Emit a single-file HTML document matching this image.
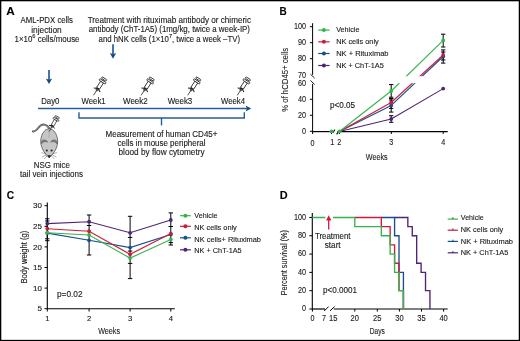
<!DOCTYPE html><html><head><meta charset="utf-8"><style>html,body{margin:0;padding:0;background:#fff}svg{display:block;will-change:transform}text{font-family:"Liberation Sans",sans-serif;stroke:#1a1a1a;stroke-width:0.12px}</style></head><body>
<svg width="520" height="341" viewBox="0 0 520 341">
<rect x="0" y="0" width="520" height="341" fill="#fff"/>
<text x="6.2" y="15.1" font-size="10.8" textLength="8.5" lengthAdjust="spacingAndGlyphs" font-weight="bold" fill="#000">A</text>
<text x="20.5" y="23.2" font-size="8.4" textLength="52.5" lengthAdjust="spacingAndGlyphs" fill="#1a1a1a">AML-PDX cells</text>
<text x="31.2" y="32.5" font-size="8.4" textLength="30.5" lengthAdjust="spacingAndGlyphs" fill="#1a1a1a">injection</text>
<text x="14.5" y="41.7" font-size="8.4" fill="#1a1a1a" textLength="65" lengthAdjust="spacingAndGlyphs">1×10<tspan font-size="6" dy="-3.3">6</tspan><tspan dy="3.3"> cells/mouse</tspan></text>
<text x="87.7" y="23.1" font-size="8.4" textLength="163.3" lengthAdjust="spacingAndGlyphs" fill="#1a1a1a">Treatment with rituximab antibody or chimeric</text>
<text x="88.7" y="32.0" font-size="8.4" textLength="161.3" lengthAdjust="spacingAndGlyphs" fill="#1a1a1a">antibody (ChT-1A5) (1mg/kg, twice a week-IP)</text>
<text x="98.6" y="41.7" font-size="8.4" fill="#1a1a1a" textLength="141.4" lengthAdjust="spacingAndGlyphs">and hNK cells (1×10<tspan font-size="6" dy="-3.3">7</tspan><tspan dy="3.3">, twice a week –TV)</tspan></text>
<line x1="49.00" y1="69.90" x2="49.00" y2="80.10" stroke="#245d9c" stroke-width="1.7"/>
<path d="M45.80,78.50 L49.00,79.70 L52.20,78.50 L49.00,84.10 Z" fill="#164a86"/>
<line x1="113.00" y1="44.20" x2="113.00" y2="54.70" stroke="#245d9c" stroke-width="1.7"/>
<path d="M109.80,53.10 L113.00,54.30 L116.20,53.10 L113.00,58.70 Z" fill="#164a86"/>
<g transform="translate(93.50,95.30) rotate(33) scale(0.94)" stroke="#1e1e1e" fill="none">
<line x1="0" y1="0" x2="0" y2="-6.5" stroke-width="0.75"/>
<path d="M-0.9,-5.8 L0.9,-5.8 L1.6,-9.2 L-1.6,-9.2 Z" fill="#555" stroke-width="0.4"/>
<path d="M-4,-6.8 L0,-8.8 L4,-6.8" stroke-width="1.1"/>
<rect x="-1.8" y="-16.8" width="3.6" height="7.8" fill="#fff" stroke-width="0.85"/>
<rect x="-4" y="-18.6" width="8" height="1.9" rx="0.9" fill="#fff" stroke-width="0.85"/>
<line x1="0" y1="-18.6" x2="0" y2="-19.8" stroke-width="0.9"/>
<rect x="-3" y="-21.6" width="6" height="1.8" rx="0.8" fill="#fff" stroke-width="0.85"/>
</g>
<g transform="translate(141.10,95.30) rotate(33) scale(0.94)" stroke="#1e1e1e" fill="none">
<line x1="0" y1="0" x2="0" y2="-6.5" stroke-width="0.75"/>
<path d="M-0.9,-5.8 L0.9,-5.8 L1.6,-9.2 L-1.6,-9.2 Z" fill="#555" stroke-width="0.4"/>
<path d="M-4,-6.8 L0,-8.8 L4,-6.8" stroke-width="1.1"/>
<rect x="-1.8" y="-16.8" width="3.6" height="7.8" fill="#fff" stroke-width="0.85"/>
<rect x="-4" y="-18.6" width="8" height="1.9" rx="0.9" fill="#fff" stroke-width="0.85"/>
<line x1="0" y1="-18.6" x2="0" y2="-19.8" stroke-width="0.9"/>
<rect x="-3" y="-21.6" width="6" height="1.8" rx="0.8" fill="#fff" stroke-width="0.85"/>
</g>
<g transform="translate(187.70,95.30) rotate(33) scale(0.94)" stroke="#1e1e1e" fill="none">
<line x1="0" y1="0" x2="0" y2="-6.5" stroke-width="0.75"/>
<path d="M-0.9,-5.8 L0.9,-5.8 L1.6,-9.2 L-1.6,-9.2 Z" fill="#555" stroke-width="0.4"/>
<path d="M-4,-6.8 L0,-8.8 L4,-6.8" stroke-width="1.1"/>
<rect x="-1.8" y="-16.8" width="3.6" height="7.8" fill="#fff" stroke-width="0.85"/>
<rect x="-4" y="-18.6" width="8" height="1.9" rx="0.9" fill="#fff" stroke-width="0.85"/>
<line x1="0" y1="-18.6" x2="0" y2="-19.8" stroke-width="0.9"/>
<rect x="-3" y="-21.6" width="6" height="1.8" rx="0.8" fill="#fff" stroke-width="0.85"/>
</g>
<g transform="translate(237.30,95.30) rotate(33) scale(0.94)" stroke="#1e1e1e" fill="none">
<line x1="0" y1="0" x2="0" y2="-6.5" stroke-width="0.75"/>
<path d="M-0.9,-5.8 L0.9,-5.8 L1.6,-9.2 L-1.6,-9.2 Z" fill="#555" stroke-width="0.4"/>
<path d="M-4,-6.8 L0,-8.8 L4,-6.8" stroke-width="1.1"/>
<rect x="-1.8" y="-16.8" width="3.6" height="7.8" fill="#fff" stroke-width="0.85"/>
<rect x="-4" y="-18.6" width="8" height="1.9" rx="0.9" fill="#fff" stroke-width="0.85"/>
<line x1="0" y1="-18.6" x2="0" y2="-19.8" stroke-width="0.9"/>
<rect x="-3" y="-21.6" width="6" height="1.8" rx="0.8" fill="#fff" stroke-width="0.85"/>
</g>
<text x="41.2" y="104.4" font-size="8.4" textLength="18.2" lengthAdjust="spacingAndGlyphs" fill="#1a1a1a">Day0</text>
<text x="81.6" y="104.4" font-size="8.4" textLength="24.0" lengthAdjust="spacingAndGlyphs" fill="#1a1a1a">Week1</text>
<text x="123.0" y="104.4" font-size="8.4" textLength="24.7" lengthAdjust="spacingAndGlyphs" fill="#1a1a1a">Week2</text>
<text x="167.7" y="104.4" font-size="8.4" textLength="24.6" lengthAdjust="spacingAndGlyphs" fill="#1a1a1a">Week3</text>
<text x="221.0" y="104.4" font-size="8.4" textLength="24.0" lengthAdjust="spacingAndGlyphs" fill="#1a1a1a">Week4</text>
<line x1="38.10" y1="108.50" x2="247.00" y2="108.50" stroke="#245d9c" stroke-width="1.3"/>
<path d="M245.6,105.6 L247,108.5 L245.6,111.4 L251.2,108.5 Z" fill="#164a86"/>
<polyline points="79.00,112.30 79.00,118.00 244.30,118.00 244.30,112.30" stroke="#245d9c" stroke-width="1.4" fill="none"/>
<line x1="161.50" y1="118.00" x2="161.50" y2="125.40" stroke="#245d9c" stroke-width="1.4"/>
<text x="105.5" y="136.7" font-size="8.4" textLength="112.0" lengthAdjust="spacingAndGlyphs" fill="#1a1a1a">Measurement of human CD45+</text>
<text x="117.5" y="145.8" font-size="8.4" textLength="88.0" lengthAdjust="spacingAndGlyphs" fill="#1a1a1a">cells in mouse peripheral</text>
<text x="118.5" y="154.6" font-size="8.4" textLength="86.1" lengthAdjust="spacingAndGlyphs" fill="#1a1a1a">blood by flow cytometry</text>
<path d="M32.8,131.4 C34.6,131.8 36.2,130.6 38.2,128 C40.2,125.4 42.2,124.4 44.2,124.6 C46.6,124.9 48.2,126.6 49.6,128.8" fill="none" stroke="#555" stroke-width="1.9" stroke-linecap="round"/>
<path d="M33.4,131.2 C34.8,131.4 36.4,130.4 38.4,127.9 C40.4,125.5 42.3,124.8 44.2,124.9 C46.5,125.2 48,126.8 49.4,128.8" fill="none" stroke="#9a9a9a" stroke-width="0.8" stroke-linecap="round"/>
<path d="M49.2,128.8 C53.5,128.8 57,133.5 57.6,140 C58.2,146 55,152.5 49.2,157.8 C43.4,152.5 40.2,146 40.8,140 C41.4,133.5 44.9,128.8 49.2,128.8 Z" fill="#c6c6c6" stroke="#4a4a4a" stroke-width="0.75"/>
<path d="M41,142.5 C42,139 46,138.6 47.8,142.2 C45.5,141.2 43,141.5 41.5,144 Z" fill="#7d7d7d" stroke="#555" stroke-width="0.4"/>
<path d="M57.4,142.5 C56.4,139 52.4,138.6 50.6,142.2 C52.9,141.2 55.4,141.5 56.9,144 Z" fill="#7d7d7d" stroke="#555" stroke-width="0.4"/>
<path d="M49.2,129 L49.2,138" stroke="#888" stroke-width="0.4"/>
<circle cx="46.8" cy="150.5" r="1" fill="#1a1a1a"/><circle cx="51.6" cy="150.5" r="1" fill="#1a1a1a"/>
<path d="M47.3,155.2 L51.1,155.2 L49.2,158 Z" fill="#1a1a1a"/>
<g stroke="#555" stroke-width="0.45" fill="none"><path d="M46,154 L41.5,152.5"/><path d="M46,155 L42,157"/><path d="M47,156 L44,159"/><path d="M52.4,154 L56.9,152.5"/><path d="M52.4,155 L56.4,157"/><path d="M51.4,156 L54.4,159"/></g>
<g transform="translate(49.10,131.70) rotate(29) scale(0.8)" stroke="#1e1e1e" fill="none">
<line x1="0" y1="0" x2="0" y2="-6.5" stroke-width="0.75"/>
<path d="M-0.9,-5.8 L0.9,-5.8 L1.6,-9.2 L-1.6,-9.2 Z" fill="#555" stroke-width="0.4"/>
<path d="M-4,-6.8 L0,-8.8 L4,-6.8" stroke-width="1.1"/>
<rect x="-1.8" y="-16.8" width="3.6" height="7.8" fill="#fff" stroke-width="0.85"/>
<rect x="-4" y="-18.6" width="8" height="1.9" rx="0.9" fill="#fff" stroke-width="0.85"/>
<line x1="0" y1="-18.6" x2="0" y2="-19.8" stroke-width="0.9"/>
<rect x="-3" y="-21.6" width="6" height="1.8" rx="0.8" fill="#fff" stroke-width="0.85"/>
</g>
<text x="33.8" y="167.6" font-size="8.4" textLength="36.2" lengthAdjust="spacingAndGlyphs" fill="#1a1a1a">NSG mice</text>
<text x="20.0" y="176.5" font-size="8.4" textLength="63.0" lengthAdjust="spacingAndGlyphs" fill="#1a1a1a">tail vein injections</text>
<text x="279.6" y="15.0" font-size="10.8" textLength="7.2" lengthAdjust="spacingAndGlyphs" font-weight="bold" fill="#000">B</text>
<line x1="312.60" y1="23.20" x2="312.60" y2="74.80" stroke="#000" stroke-width="1"/>
<line x1="312.60" y1="83.90" x2="312.60" y2="131.80" stroke="#000" stroke-width="1"/>
<line x1="310.50" y1="74.20" x2="314.60" y2="78.10" stroke="#000" stroke-width="0.9"/>
<line x1="310.50" y1="80.40" x2="314.60" y2="84.50" stroke="#000" stroke-width="0.9"/>
<line x1="309.90" y1="26.70" x2="312.60" y2="26.70" stroke="#000" stroke-width="1"/>
<text x="306.0" y="29.4" font-size="8.5" text-anchor="end" textLength="12.1" lengthAdjust="spacingAndGlyphs" fill="#1a1a1a">100</text>
<line x1="309.90" y1="42.70" x2="312.60" y2="42.70" stroke="#000" stroke-width="1"/>
<text x="306.0" y="45.4" font-size="8.5" text-anchor="end" textLength="8.1" lengthAdjust="spacingAndGlyphs" fill="#1a1a1a">90</text>
<line x1="309.90" y1="58.70" x2="312.60" y2="58.70" stroke="#000" stroke-width="1"/>
<text x="306.0" y="61.4" font-size="8.5" text-anchor="end" textLength="8.1" lengthAdjust="spacingAndGlyphs" fill="#1a1a1a">80</text>
<text x="306.0" y="78.2" font-size="8.5" text-anchor="end" textLength="8.1" lengthAdjust="spacingAndGlyphs" fill="#1a1a1a">70</text>
<text x="306.0" y="86.0" font-size="8.5" text-anchor="end" textLength="8.1" lengthAdjust="spacingAndGlyphs" fill="#1a1a1a">60</text>
<line x1="309.90" y1="99.30" x2="312.60" y2="99.30" stroke="#000" stroke-width="1"/>
<text x="306.0" y="102.0" font-size="8.5" text-anchor="end" textLength="8.1" lengthAdjust="spacingAndGlyphs" fill="#1a1a1a">40</text>
<line x1="309.90" y1="115.30" x2="312.60" y2="115.30" stroke="#000" stroke-width="1"/>
<text x="306.0" y="118.0" font-size="8.5" text-anchor="end" textLength="8.1" lengthAdjust="spacingAndGlyphs" fill="#1a1a1a">20</text>
<line x1="309.90" y1="131.30" x2="312.60" y2="131.30" stroke="#000" stroke-width="1"/>
<text x="306.0" y="134.0" font-size="8.5" text-anchor="end" textLength="4.0" lengthAdjust="spacingAndGlyphs" fill="#1a1a1a">0</text>
<line x1="312.60" y1="131.60" x2="333.40" y2="131.60" stroke="#000" stroke-width="1.2"/>
<line x1="337.40" y1="131.60" x2="447.70" y2="131.60" stroke="#000" stroke-width="1.2"/>
<line x1="332.60" y1="133.00" x2="334.90" y2="129.60" stroke="#000" stroke-width="1.1"/>
<line x1="336.60" y1="134.40" x2="338.60" y2="131.60" stroke="#000" stroke-width="1.1"/>
<line x1="312.60" y1="131.50" x2="312.60" y2="134.00" stroke="#000" stroke-width="1"/>
<line x1="331.50" y1="131.50" x2="331.50" y2="134.00" stroke="#000" stroke-width="1"/>
<line x1="339.40" y1="131.50" x2="339.40" y2="134.00" stroke="#000" stroke-width="1"/>
<line x1="391.30" y1="131.50" x2="391.30" y2="134.00" stroke="#000" stroke-width="1"/>
<line x1="443.20" y1="131.50" x2="443.20" y2="134.00" stroke="#000" stroke-width="1"/>
<text x="312.5" y="146.1" font-size="8.5" text-anchor="middle" textLength="4.0" lengthAdjust="spacingAndGlyphs" fill="#1a1a1a">0</text>
<text x="332.2" y="144.9" font-size="8.5" text-anchor="middle" textLength="4.0" lengthAdjust="spacingAndGlyphs" fill="#1a1a1a">1</text>
<text x="339.2" y="144.9" font-size="8.5" text-anchor="middle" textLength="4.0" lengthAdjust="spacingAndGlyphs" fill="#1a1a1a">2</text>
<text x="391.3" y="144.9" font-size="8.5" text-anchor="middle" textLength="4.0" lengthAdjust="spacingAndGlyphs" fill="#1a1a1a">3</text>
<text x="443.2" y="144.9" font-size="8.5" text-anchor="middle" textLength="4.0" lengthAdjust="spacingAndGlyphs" fill="#1a1a1a">4</text>
<text x="365.8" y="159.7" font-size="9.6" textLength="21.9" lengthAdjust="spacingAndGlyphs" fill="#1a1a1a">Weeks</text>
<text transform="translate(287.7,111.8) rotate(-90)" font-size="9.6" fill="#1a1a1a" textLength="64" lengthAdjust="spacingAndGlyphs">% of hCD45+ cells</text>
<text x="330.1" y="107.7" font-size="8.4" textLength="25.0" lengthAdjust="spacingAndGlyphs" fill="#1a1a1a">p&lt;0.05</text>
<line x1="318.20" y1="30.10" x2="329.60" y2="30.10" stroke="#35b44a" stroke-width="1.2"/>
<circle cx="323.90" cy="30.10" r="2.0" fill="#35b44a"/>
<text x="336.2" y="32.2" font-size="7.9" textLength="23.2" lengthAdjust="spacingAndGlyphs" fill="#1a1a1a">Vehicle</text>
<line x1="318.20" y1="41.80" x2="329.60" y2="41.80" stroke="#cf1a3c" stroke-width="1.2"/>
<circle cx="323.90" cy="41.80" r="2.0" fill="#cf1a3c"/>
<text x="336.2" y="44.0" font-size="7.9" textLength="42.5" lengthAdjust="spacingAndGlyphs" fill="#1a1a1a">NK cells only</text>
<line x1="318.20" y1="53.50" x2="329.60" y2="53.50" stroke="#174f8e" stroke-width="1.2"/>
<circle cx="323.90" cy="53.50" r="2.0" fill="#174f8e"/>
<text x="336.2" y="55.8" font-size="7.9" textLength="52.3" lengthAdjust="spacingAndGlyphs" fill="#1a1a1a">NK + Rituximab</text>
<line x1="318.20" y1="65.50" x2="329.60" y2="65.50" stroke="#4f2375" stroke-width="1.2"/>
<circle cx="323.90" cy="65.50" r="2.0" fill="#4f2375"/>
<text x="336.2" y="67.6" font-size="7.9" textLength="47.6" lengthAdjust="spacingAndGlyphs" fill="#1a1a1a">NK + ChT-1A5</text>
<line x1="391.20" y1="84.60" x2="391.20" y2="97.20" stroke="#000" stroke-width="1.0"/>
<line x1="389.00" y1="84.60" x2="393.40" y2="84.60" stroke="#000" stroke-width="1.0"/>
<line x1="389.00" y1="97.20" x2="393.40" y2="97.20" stroke="#000" stroke-width="1.0"/>
<line x1="391.20" y1="98.50" x2="391.20" y2="108.40" stroke="#000" stroke-width="1.0"/>
<line x1="389.00" y1="98.50" x2="393.40" y2="98.50" stroke="#000" stroke-width="1.0"/>
<line x1="389.00" y1="108.40" x2="393.40" y2="108.40" stroke="#000" stroke-width="1.0"/>
<line x1="391.20" y1="100.00" x2="391.20" y2="112.10" stroke="#000" stroke-width="1.0"/>
<line x1="389.00" y1="100.00" x2="393.40" y2="100.00" stroke="#000" stroke-width="1.0"/>
<line x1="389.00" y1="112.10" x2="393.40" y2="112.10" stroke="#000" stroke-width="1.0"/>
<line x1="391.20" y1="115.70" x2="391.20" y2="122.30" stroke="#000" stroke-width="1.0"/>
<line x1="389.00" y1="115.70" x2="393.40" y2="115.70" stroke="#000" stroke-width="1.0"/>
<line x1="389.00" y1="122.30" x2="393.40" y2="122.30" stroke="#000" stroke-width="1.0"/>
<line x1="443.20" y1="34.20" x2="443.20" y2="47.00" stroke="#000" stroke-width="1.0"/>
<line x1="441.00" y1="34.20" x2="445.40" y2="34.20" stroke="#000" stroke-width="1.0"/>
<line x1="441.00" y1="47.00" x2="445.40" y2="47.00" stroke="#000" stroke-width="1.0"/>
<line x1="443.20" y1="49.90" x2="443.20" y2="60.00" stroke="#000" stroke-width="1.0"/>
<line x1="441.00" y1="49.90" x2="445.40" y2="49.90" stroke="#000" stroke-width="1.0"/>
<line x1="441.00" y1="60.00" x2="445.40" y2="60.00" stroke="#000" stroke-width="1.0"/>
<line x1="443.20" y1="52.00" x2="443.20" y2="63.10" stroke="#000" stroke-width="1.0"/>
<line x1="441.00" y1="52.00" x2="445.40" y2="52.00" stroke="#000" stroke-width="1.0"/>
<line x1="441.00" y1="63.10" x2="445.40" y2="63.10" stroke="#000" stroke-width="1.0"/>
<line x1="339.40" y1="131.50" x2="391.20" y2="119.00" stroke="#4f2375" stroke-width="1.1"/>
<line x1="391.20" y1="119.00" x2="443.20" y2="88.60" stroke="#4f2375" stroke-width="1.1"/>
<line x1="339.40" y1="131.50" x2="391.20" y2="105.40" stroke="#174f8e" stroke-width="1.1"/>
<line x1="391.20" y1="105.40" x2="443.20" y2="56.50" stroke="#174f8e" stroke-width="1.1"/>
<line x1="339.40" y1="131.50" x2="391.20" y2="102.50" stroke="#cf1a3c" stroke-width="1.1"/>
<line x1="391.20" y1="102.50" x2="443.20" y2="55.00" stroke="#cf1a3c" stroke-width="1.1"/>
<line x1="339.40" y1="131.50" x2="391.20" y2="91.00" stroke="#35b44a" stroke-width="1.1"/>
<line x1="391.20" y1="91.00" x2="443.20" y2="40.40" stroke="#35b44a" stroke-width="1.1"/>
<rect x="318" y="76.2" width="120" height="7" fill="#fff"/>
<circle cx="391.20" cy="119.00" r="1.9" fill="#4f2375"/>
<circle cx="443.20" cy="88.60" r="1.9" fill="#4f2375"/>
<circle cx="391.20" cy="105.40" r="1.9" fill="#174f8e"/>
<circle cx="443.20" cy="56.50" r="1.9" fill="#174f8e"/>
<circle cx="391.20" cy="102.50" r="1.9" fill="#cf1a3c"/>
<circle cx="443.20" cy="55.00" r="1.9" fill="#cf1a3c"/>
<circle cx="391.20" cy="91.00" r="1.9" fill="#35b44a"/>
<circle cx="443.20" cy="40.40" r="1.9" fill="#35b44a"/>
<circle cx="331.50" cy="131.30" r="1.9" fill="#35b44a"/>
<circle cx="339.40" cy="131.30" r="1.9" fill="#35b44a"/>
<text x="6.7" y="199.4" font-size="10.8" textLength="7.4" lengthAdjust="spacingAndGlyphs" font-weight="bold" fill="#000">C</text>
<line x1="47.30" y1="202.60" x2="47.30" y2="309.20" stroke="#000" stroke-width="1.1"/>
<line x1="44.50" y1="308.70" x2="47.30" y2="308.70" stroke="#000" stroke-width="1"/>
<text x="42.0" y="311.4" font-size="7.7" text-anchor="end" textLength="4.5" lengthAdjust="spacingAndGlyphs" fill="#1a1a1a">5</text>
<line x1="44.50" y1="288.10" x2="47.30" y2="288.10" stroke="#000" stroke-width="1"/>
<text x="42.0" y="290.8" font-size="7.7" text-anchor="end" textLength="8.9" lengthAdjust="spacingAndGlyphs" fill="#1a1a1a">10</text>
<line x1="44.50" y1="267.50" x2="47.30" y2="267.50" stroke="#000" stroke-width="1"/>
<text x="42.0" y="270.2" font-size="7.7" text-anchor="end" textLength="8.9" lengthAdjust="spacingAndGlyphs" fill="#1a1a1a">15</text>
<line x1="44.50" y1="246.90" x2="47.30" y2="246.90" stroke="#000" stroke-width="1"/>
<text x="42.0" y="249.6" font-size="7.7" text-anchor="end" textLength="8.9" lengthAdjust="spacingAndGlyphs" fill="#1a1a1a">20</text>
<line x1="44.50" y1="226.30" x2="47.30" y2="226.30" stroke="#000" stroke-width="1"/>
<text x="42.0" y="229.0" font-size="7.7" text-anchor="end" textLength="8.9" lengthAdjust="spacingAndGlyphs" fill="#1a1a1a">25</text>
<line x1="44.50" y1="205.70" x2="47.30" y2="205.70" stroke="#000" stroke-width="1"/>
<text x="42.0" y="208.4" font-size="7.7" text-anchor="end" textLength="8.9" lengthAdjust="spacingAndGlyphs" fill="#1a1a1a">30</text>
<line x1="47.30" y1="308.70" x2="174.80" y2="308.70" stroke="#000" stroke-width="1.1"/>
<line x1="47.30" y1="308.70" x2="47.30" y2="311.50" stroke="#000" stroke-width="1"/>
<text x="47.3" y="320.8" font-size="7.7" text-anchor="middle" fill="#1a1a1a">1</text>
<line x1="89.10" y1="308.70" x2="89.10" y2="311.50" stroke="#000" stroke-width="1"/>
<text x="89.1" y="320.8" font-size="7.7" text-anchor="middle" fill="#1a1a1a">2</text>
<line x1="130.10" y1="308.70" x2="130.10" y2="311.50" stroke="#000" stroke-width="1"/>
<text x="130.1" y="320.8" font-size="7.7" text-anchor="middle" fill="#1a1a1a">3</text>
<line x1="170.80" y1="308.70" x2="170.80" y2="311.50" stroke="#000" stroke-width="1"/>
<text x="170.8" y="320.8" font-size="7.7" text-anchor="middle" fill="#1a1a1a">4</text>
<text x="98.2" y="333.8" font-size="9.6" textLength="21.8" lengthAdjust="spacingAndGlyphs" fill="#1a1a1a">Weeks</text>
<text transform="translate(26.6,283.6) rotate(-90)" font-size="8.2" fill="#1a1a1a" textLength="53" lengthAdjust="spacingAndGlyphs">Body weight (g)</text>
<text x="57.0" y="297.3" font-size="8.4" textLength="25.6" lengthAdjust="spacingAndGlyphs" fill="#1a1a1a">p=0.02</text>
<line x1="47.30" y1="218.80" x2="47.30" y2="240.70" stroke="#000" stroke-width="1.0"/>
<line x1="45.10" y1="218.80" x2="49.50" y2="218.80" stroke="#000" stroke-width="1.0"/>
<line x1="45.10" y1="221.00" x2="49.50" y2="221.00" stroke="#000" stroke-width="1.0"/>
<line x1="45.10" y1="238.80" x2="49.50" y2="238.80" stroke="#000" stroke-width="1.0"/>
<line x1="45.10" y1="240.70" x2="49.50" y2="240.70" stroke="#000" stroke-width="1.0"/>
<line x1="89.10" y1="215.00" x2="89.10" y2="255.00" stroke="#000" stroke-width="1.0"/>
<line x1="86.90" y1="215.00" x2="91.30" y2="215.00" stroke="#000" stroke-width="1.0"/>
<line x1="86.90" y1="225.50" x2="91.30" y2="225.50" stroke="#000" stroke-width="1.0"/>
<line x1="86.90" y1="255.00" x2="91.30" y2="255.00" stroke="#000" stroke-width="1.0"/>
<line x1="130.10" y1="216.30" x2="130.10" y2="278.60" stroke="#000" stroke-width="1.0"/>
<line x1="127.90" y1="216.30" x2="132.30" y2="216.30" stroke="#000" stroke-width="1.0"/>
<line x1="127.90" y1="237.40" x2="132.30" y2="237.40" stroke="#000" stroke-width="1.0"/>
<line x1="127.90" y1="251.10" x2="132.30" y2="251.10" stroke="#000" stroke-width="1.0"/>
<line x1="127.90" y1="263.40" x2="132.30" y2="263.40" stroke="#000" stroke-width="1.0"/>
<line x1="127.90" y1="278.60" x2="132.30" y2="278.60" stroke="#000" stroke-width="1.0"/>
<line x1="170.80" y1="212.90" x2="170.80" y2="245.00" stroke="#000" stroke-width="1.0"/>
<line x1="168.60" y1="212.90" x2="173.00" y2="212.90" stroke="#000" stroke-width="1.0"/>
<line x1="168.60" y1="226.50" x2="173.00" y2="226.50" stroke="#000" stroke-width="1.0"/>
<line x1="168.60" y1="242.60" x2="173.00" y2="242.60" stroke="#000" stroke-width="1.0"/>
<line x1="168.60" y1="245.00" x2="173.00" y2="245.00" stroke="#000" stroke-width="1.0"/>
<polyline points="47.30,233.10 89.10,240.30 130.10,247.60 170.80,234.40" stroke="#174f8e" stroke-width="1.1" fill="none"/>
<polyline points="47.30,232.70 89.10,235.00 130.10,258.10 170.80,239.50" stroke="#35b44a" stroke-width="1.1" fill="none"/>
<polyline points="47.30,228.70 89.10,231.20 130.10,254.30 170.80,233.60" stroke="#cf1a3c" stroke-width="1.1" fill="none"/>
<polyline points="47.30,223.60 89.10,221.70 130.10,232.80 170.80,220.00" stroke="#4f2375" stroke-width="1.1" fill="none"/>
<circle cx="47.30" cy="233.10" r="1.9" fill="#174f8e"/>
<circle cx="89.10" cy="240.30" r="1.9" fill="#174f8e"/>
<circle cx="130.10" cy="247.60" r="1.9" fill="#174f8e"/>
<circle cx="170.80" cy="234.40" r="1.9" fill="#174f8e"/>
<circle cx="47.30" cy="232.70" r="1.9" fill="#35b44a"/>
<circle cx="89.10" cy="235.00" r="1.9" fill="#35b44a"/>
<circle cx="130.10" cy="258.10" r="1.9" fill="#35b44a"/>
<circle cx="170.80" cy="239.50" r="1.9" fill="#35b44a"/>
<circle cx="47.30" cy="228.70" r="1.9" fill="#cf1a3c"/>
<circle cx="89.10" cy="231.20" r="1.9" fill="#cf1a3c"/>
<circle cx="130.10" cy="254.30" r="1.9" fill="#cf1a3c"/>
<circle cx="170.80" cy="233.60" r="1.9" fill="#cf1a3c"/>
<circle cx="47.30" cy="223.60" r="1.9" fill="#4f2375"/>
<circle cx="89.10" cy="221.70" r="1.9" fill="#4f2375"/>
<circle cx="130.10" cy="232.80" r="1.9" fill="#4f2375"/>
<circle cx="170.80" cy="220.00" r="1.9" fill="#4f2375"/>
<line x1="180.00" y1="215.70" x2="190.80" y2="215.70" stroke="#35b44a" stroke-width="1.2"/>
<circle cx="185.40" cy="215.70" r="2.0" fill="#35b44a"/>
<text x="194.3" y="218.1" font-size="7.9" textLength="23.2" lengthAdjust="spacingAndGlyphs" fill="#1a1a1a">Vehicle</text>
<line x1="180.00" y1="226.30" x2="190.80" y2="226.30" stroke="#cf1a3c" stroke-width="1.2"/>
<circle cx="185.40" cy="226.30" r="2.0" fill="#cf1a3c"/>
<text x="194.3" y="229.8" font-size="7.9" textLength="42.5" lengthAdjust="spacingAndGlyphs" fill="#1a1a1a">NK cells only</text>
<line x1="180.00" y1="237.80" x2="190.80" y2="237.80" stroke="#174f8e" stroke-width="1.2"/>
<circle cx="185.40" cy="237.80" r="2.0" fill="#174f8e"/>
<text x="194.3" y="241.8" font-size="7.9" textLength="66.7" lengthAdjust="spacingAndGlyphs" fill="#1a1a1a">NK cells+ Rituximab</text>
<line x1="180.00" y1="249.80" x2="190.80" y2="249.80" stroke="#4f2375" stroke-width="1.2"/>
<circle cx="185.40" cy="249.80" r="2.0" fill="#4f2375"/>
<text x="194.3" y="253.0" font-size="7.9" textLength="47.4" lengthAdjust="spacingAndGlyphs" fill="#1a1a1a">NK + ChT-1A5</text>
<text x="279.7" y="199.1" font-size="10.8" textLength="7.9" lengthAdjust="spacingAndGlyphs" font-weight="bold" fill="#000">D</text>
<line x1="312.30" y1="213.10" x2="312.30" y2="309.50" stroke="#000" stroke-width="1.1"/>
<line x1="309.30" y1="309.00" x2="312.30" y2="309.00" stroke="#000" stroke-width="1"/>
<text x="306.0" y="311.3" font-size="8.5" text-anchor="end" textLength="4.0" lengthAdjust="spacingAndGlyphs" fill="#1a1a1a">0</text>
<line x1="309.30" y1="290.69" x2="312.30" y2="290.69" stroke="#000" stroke-width="1"/>
<text x="306.0" y="293.0" font-size="8.5" text-anchor="end" textLength="8.1" lengthAdjust="spacingAndGlyphs" fill="#1a1a1a">20</text>
<line x1="309.30" y1="272.38" x2="312.30" y2="272.38" stroke="#000" stroke-width="1"/>
<text x="306.0" y="274.7" font-size="8.5" text-anchor="end" textLength="8.1" lengthAdjust="spacingAndGlyphs" fill="#1a1a1a">40</text>
<line x1="309.30" y1="254.07" x2="312.30" y2="254.07" stroke="#000" stroke-width="1"/>
<text x="306.0" y="256.4" font-size="8.5" text-anchor="end" textLength="8.1" lengthAdjust="spacingAndGlyphs" fill="#1a1a1a">60</text>
<line x1="309.30" y1="235.76" x2="312.30" y2="235.76" stroke="#000" stroke-width="1"/>
<text x="306.0" y="238.1" font-size="8.5" text-anchor="end" textLength="8.1" lengthAdjust="spacingAndGlyphs" fill="#1a1a1a">80</text>
<line x1="309.30" y1="217.45" x2="312.30" y2="217.45" stroke="#000" stroke-width="1"/>
<text x="306.0" y="219.8" font-size="8.5" text-anchor="end" textLength="12.1" lengthAdjust="spacingAndGlyphs" fill="#1a1a1a">100</text>
<line x1="312.30" y1="309.00" x2="325.00" y2="309.00" stroke="#000" stroke-width="1.2"/>
<line x1="333.80" y1="309.00" x2="447.70" y2="309.00" stroke="#000" stroke-width="1.2"/>
<line x1="324.20" y1="311.00" x2="328.60" y2="306.60" stroke="#000" stroke-width="1.0"/>
<line x1="330.10" y1="310.80" x2="334.50" y2="306.60" stroke="#000" stroke-width="1.0"/>
<line x1="312.40" y1="309.00" x2="312.40" y2="311.60" stroke="#000" stroke-width="1"/>
<text x="312.4" y="320.6" font-size="8.5" text-anchor="middle" textLength="4.0" lengthAdjust="spacingAndGlyphs" fill="#1a1a1a">0</text>
<text x="324.0" y="320.6" font-size="8.5" text-anchor="middle" textLength="4.0" lengthAdjust="spacingAndGlyphs" fill="#1a1a1a">7</text>
<text x="333.2" y="320.6" font-size="8.5" text-anchor="middle" textLength="8.4" lengthAdjust="spacingAndGlyphs" fill="#1a1a1a">15</text>
<line x1="354.80" y1="309.00" x2="354.80" y2="311.60" stroke="#000" stroke-width="1"/>
<text x="354.8" y="320.6" font-size="8.5" text-anchor="middle" textLength="8.4" lengthAdjust="spacingAndGlyphs" fill="#1a1a1a">20</text>
<line x1="377.30" y1="309.00" x2="377.30" y2="311.60" stroke="#000" stroke-width="1"/>
<text x="377.3" y="320.6" font-size="8.5" text-anchor="middle" textLength="8.4" lengthAdjust="spacingAndGlyphs" fill="#1a1a1a">25</text>
<line x1="399.40" y1="309.00" x2="399.40" y2="311.60" stroke="#000" stroke-width="1"/>
<text x="399.4" y="320.6" font-size="8.5" text-anchor="middle" textLength="8.4" lengthAdjust="spacingAndGlyphs" fill="#1a1a1a">30</text>
<line x1="421.50" y1="309.00" x2="421.50" y2="311.60" stroke="#000" stroke-width="1"/>
<text x="421.5" y="320.6" font-size="8.5" text-anchor="middle" textLength="8.4" lengthAdjust="spacingAndGlyphs" fill="#1a1a1a">35</text>
<line x1="443.60" y1="309.00" x2="443.60" y2="311.60" stroke="#000" stroke-width="1"/>
<text x="443.6" y="320.6" font-size="8.5" text-anchor="middle" textLength="8.4" lengthAdjust="spacingAndGlyphs" fill="#1a1a1a">40</text>
<text x="369.7" y="333.8" font-size="9.6" textLength="15.1" lengthAdjust="spacingAndGlyphs" fill="#1a1a1a">Days</text>
<text transform="translate(287.1,295.3) rotate(-90)" font-size="9.6" fill="#1a1a1a" textLength="65.2" lengthAdjust="spacingAndGlyphs">Percent survival (%)</text>
<text x="322.9" y="293.0" font-size="8.4" textLength="34.1" lengthAdjust="spacingAndGlyphs" fill="#1a1a1a">p&lt;0.0001</text>
<text x="314.9" y="238.9" font-size="8.4" textLength="35.6" lengthAdjust="spacingAndGlyphs" fill="#1a1a1a">Treatment</text>
<text x="324.8" y="248.3" font-size="8.4" textLength="15.8" lengthAdjust="spacingAndGlyphs" fill="#1a1a1a">start</text>
<polyline points="394.58,217.45 407.84,217.45 407.84,226.61 412.26,226.61 412.26,235.76 416.68,235.76 416.68,263.23 421.10,263.23 421.10,272.38 425.52,272.38 425.52,290.69 429.94,290.69 429.94,309.00" stroke="#4f2375" stroke-width="1.35" fill="none"/>
<polyline points="381.32,217.45 394.58,217.45 394.58,235.76 399.00,235.76 399.00,272.38 403.42,272.38 403.42,309.00" stroke="#174f8e" stroke-width="1.35" fill="none"/>
<polyline points="354.80,217.45 381.32,217.45 381.32,226.61 390.16,226.61 390.16,244.92 394.58,244.92 394.58,263.23 399.00,263.23 399.00,290.69 403.42,290.69 403.42,309.00" stroke="#cf1a3c" stroke-width="1.35" fill="none"/>
<polyline points="312.30,217.45 354.80,217.45 354.80,226.61 381.32,226.61 381.32,235.76 390.16,235.76 390.16,254.07 394.58,254.07 394.58,272.38 399.00,272.38 399.00,290.69 403.42,290.69 403.42,309.00" stroke="#35b44a" stroke-width="1.35" fill="none"/>
<rect x="325.4" y="215" width="7.6" height="5" fill="#fff"/>
<line x1="328.70" y1="219.00" x2="328.70" y2="229.40" stroke="#cf1a3c" stroke-width="1.3"/>
<path d="M326.1,220.4 L331.4,220.4 L328.7,215.2 Z" fill="#cf1a3c"/>
<line x1="447.70" y1="219.10" x2="457.90" y2="219.10" stroke="#35b44a" stroke-width="1.2"/>
<line x1="452.90" y1="219.10" x2="452.90" y2="217.30" stroke="#000" stroke-width="0.7"/>
<text x="460.8" y="220.2" font-size="7.9" textLength="23.0" lengthAdjust="spacingAndGlyphs" fill="#1a1a1a">Vehicle</text>
<line x1="447.70" y1="230.20" x2="457.90" y2="230.20" stroke="#cf1a3c" stroke-width="1.2"/>
<line x1="452.90" y1="230.20" x2="452.90" y2="228.40" stroke="#000" stroke-width="0.7"/>
<text x="460.8" y="231.9" font-size="7.9" textLength="42.4" lengthAdjust="spacingAndGlyphs" fill="#1a1a1a">NK cells only</text>
<line x1="447.70" y1="241.40" x2="457.90" y2="241.40" stroke="#174f8e" stroke-width="1.2"/>
<line x1="452.90" y1="241.40" x2="452.90" y2="239.60" stroke="#000" stroke-width="0.7"/>
<text x="460.8" y="243.6" font-size="7.9" textLength="52.2" lengthAdjust="spacingAndGlyphs" fill="#1a1a1a">NK + Rituximab</text>
<line x1="447.70" y1="252.80" x2="457.90" y2="252.80" stroke="#4f2375" stroke-width="1.2"/>
<line x1="452.90" y1="252.80" x2="452.90" y2="251.00" stroke="#000" stroke-width="0.7"/>
<text x="460.8" y="255.3" font-size="7.9" textLength="47.5" lengthAdjust="spacingAndGlyphs" fill="#1a1a1a">NK + ChT-1A5</text>
<rect x="0" y="0" width="520" height="1.3" fill="#000"/><rect x="0" y="0" width="1.3" height="341" fill="#000"/><rect x="518.75" y="0" width="1.25" height="341" fill="#000"/><rect x="0" y="339.85" width="520" height="1.15" fill="#000"/>
</svg></body></html>
